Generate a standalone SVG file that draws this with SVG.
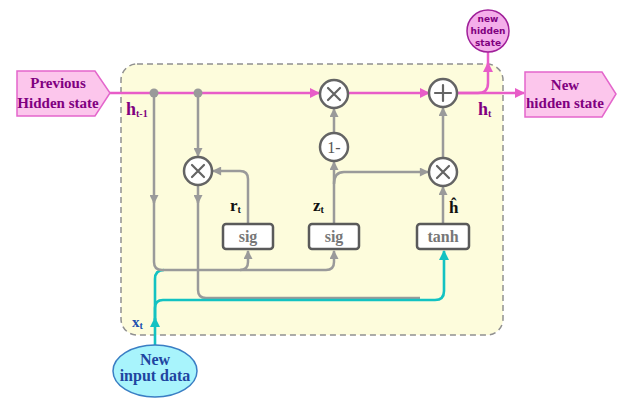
<svg xmlns="http://www.w3.org/2000/svg" width="618" height="399" viewBox="0 0 618 399">
  <style>
    .serif { font-family: "Liberation Serif", "Times New Roman", serif; font-weight: bold; }
    .cell { fill: #fdfcdc; stroke: #909090; stroke-width: 1.5; stroke-dasharray: 6 4; }
    .pink { fill: none; stroke: #e85cc8; stroke-width: 2.5; }
    .gray { fill: none; stroke: #9a9a9a; stroke-width: 2.5; }
    .cyan { fill: none; stroke: #13c2c2; stroke-width: 2.6; }
    .op { fill: #ffffff; stroke: #646464; stroke-width: 2.5; }
    .sym { fill: none; stroke: #646464; stroke-width: 2.2; stroke-linecap: round; }
    .gate { fill: #ffffff; stroke: #5a5a5a; stroke-width: 2.5; }
    .gtxt { fill: #777777; font-size: 16px; text-anchor: middle; }
    .state { fill: #fcc6ec; stroke: #e466cc; stroke-width: 1.5; }
    .ptxt { fill: #800080; font-size: 15px; text-anchor: middle; }
    .lbl { fill: #111111; font-size: 17px; }
    .sub { font-size: 10px; }
  </style>
  <defs>
    <marker id="ap" viewBox="0 0 10 10" refX="9" refY="5" markerWidth="11" markerHeight="10" markerUnits="userSpaceOnUse" orient="auto">
      <path d="M0,0 L10,5 L0,10 z" fill="#e85cc8"/>
    </marker>
    <marker id="ag" viewBox="0 0 10 10" refX="9" refY="5" markerWidth="10" markerHeight="9" markerUnits="userSpaceOnUse" orient="auto">
      <path d="M0,0 L10,5 L0,10 z" fill="#9a9a9a"/>
    </marker>
    <marker id="ac" viewBox="0 0 10 10" refX="9" refY="5" markerWidth="11" markerHeight="10" markerUnits="userSpaceOnUse" orient="auto">
      <path d="M0,0 L10,5 L0,10 z" fill="#13c2c2"/>
    </marker>
  </defs>

  <!-- GRU cell boundary -->
  <rect class="cell" x="121" y="64" width="382" height="271" rx="16"/>

  <!-- connectors -->
  <g id="connectors">
    <!-- input x_t feeding the gates -->
    <path class="cyan" d="M155,320 V279 Q155,270 164,270"/>
    <!-- h_{t-1} down to both sig gates -->
    <path class="gray" d="M154,93 V203" marker-end="url(#ag)"/>
    <path class="gray" d="M154,200 V262 Q154,270 162,270 H326 Q334,270 334,262 V251" marker-end="url(#ag)"/>
    <path class="gray" d="M240,270 Q248,270 248,262 V251" marker-end="url(#ag)"/>
    <!-- h_{t-1} into reset multiply -->
    <path class="gray" d="M198,93 V156" marker-end="url(#ag)"/>
    <!-- reset product down to tanh -->
    <path class="gray" d="M198,185 V203" marker-end="url(#ag)"/>
    <path class="gray" d="M198,200 V290 Q198,298 206,298 H420"/>
    <!-- r_t to reset multiply -->
    <path class="gray" d="M248,224 V179 Q248,171 240,171 H213" marker-end="url(#ag)"/>
    <!-- z_t to 1- and to update multiply -->
    <path class="gray" d="M334,224 V162" marker-end="url(#ag)"/>
    <path class="gray" d="M334,184 Q334,172 344,172 H428" marker-end="url(#ag)"/>
    <path class="gray" d="M334,133 V109" marker-end="url(#ag)"/>
    <!-- candidate path -->
    <path class="gray" d="M443,224 V187" marker-end="url(#ag)"/>
    <path class="gray" d="M443,158 V108" marker-end="url(#ag)"/>
    <!-- x_t input line -->
    <path class="cyan" d="M155,345 V318" marker-end="url(#ac)"/>
    <path class="cyan" d="M155,320 V308 Q155,300 163,300 H435 Q444,300 444,291 V251" marker-end="url(#ac)"/>
    <!-- hidden state line -->
    <path class="pink" d="M110,93 H319" marker-end="url(#ap)"/>
    <path class="pink" d="M348,93 H429" marker-end="url(#ap)"/>
    <path class="pink" d="M458,93 H524" marker-end="url(#ap)"/>
    <path class="pink" d="M458,93 H478 Q488,93 488,83 V63" marker-end="url(#ap)"/>
    <path class="pink" d="M488,66 V52"/>
    <!-- split points -->
    <circle cx="154" cy="93" r="4.5" fill="#9a9a9a"/>
    <circle cx="198" cy="93" r="4.5" fill="#9a9a9a"/>
  </g>

  <!-- states -->
  <g id="prev-state">
    <polygon class="state" points="17,71 95,71 110,93 95,116 17,116"/>
    <text class="serif ptxt" x="58" y="88">Previous</text>
    <text class="serif ptxt" x="58" y="108">Hidden state</text>
  </g>
  <g id="next-state">
    <polygon class="state" points="525,72 602,72 616,94 602,117 525,117"/>
    <text class="serif ptxt" x="565" y="90">New</text>
    <text class="serif ptxt" x="565" y="108">hidden state</text>
  </g>
  <g id="output-state">
    <circle cx="488" cy="31" r="21" fill="#f4aeea" stroke="#a0209a" stroke-width="1.5"/>
    <text x="488" y="22" font-family="'DejaVu Sans', sans-serif" font-weight="bold" font-size="9" fill="#800080" text-anchor="middle">new</text>
    <text x="488" y="34" font-family="'DejaVu Sans', sans-serif" font-weight="bold" font-size="9" fill="#800080" text-anchor="middle">hidden</text>
    <text x="488" y="46" font-family="'DejaVu Sans', sans-serif" font-weight="bold" font-size="9" fill="#800080" text-anchor="middle">state</text>
  </g>
  <g id="input-data">
    <ellipse cx="155" cy="371" rx="42" ry="26" fill="#a8f4fc" stroke="#3a7ec4" stroke-width="1.5"/>
    <text class="serif" x="155" y="365" font-size="16" fill="#2044a0" text-anchor="middle">New</text>
    <text class="serif" x="155" y="381" font-size="16" fill="#2044a0" text-anchor="middle">input data</text>
  </g>

  <!-- pointwise operations -->
  <g id="reset-mul">
    <circle class="op" cx="198" cy="171" r="14"/>
    <path class="sym" d="M192,165 L204,177 M204,165 L192,177"/>
  </g>
  <g id="keep-mul">
    <circle class="op" cx="334" cy="94" r="14"/>
    <path class="sym" d="M328,88 L340,100 M340,88 L328,100"/>
  </g>
  <g id="one-minus">
    <circle class="op" cx="334" cy="147" r="14"/>
    <text x="334" y="153" font-family="'Liberation Serif', serif" font-size="16" fill="#555555" text-anchor="middle">1-</text>
  </g>
  <g id="sum">
    <circle class="op" cx="443" cy="93" r="14"/>
    <path class="sym" d="M435,93 H451 M443,85 V101"/>
  </g>
  <g id="update-mul">
    <circle class="op" cx="443" cy="172" r="14"/>
    <path class="sym" d="M437,166 L449,178 M449,166 L437,178"/>
  </g>

  <!-- gates -->
  <g id="reset-gate">
    <rect class="gate" x="223" y="224" width="50" height="25" rx="3"/>
    <text class="serif gtxt" x="248" y="242">sig</text>
  </g>
  <g id="update-gate">
    <rect class="gate" x="309" y="224" width="50" height="25" rx="3"/>
    <text class="serif gtxt" x="334" y="242">sig</text>
  </g>
  <g id="candidate">
    <rect class="gate" x="417" y="224" width="52" height="25" rx="3"/>
    <text class="serif gtxt" x="443" y="242">tanh</text>
  </g>

  <!-- labels -->
  <text class="serif" x="126" y="115" font-size="18" fill="#800080">h<tspan class="sub" dy="2">t-1</tspan></text>
  <text class="serif" x="478" y="115" font-size="18" fill="#800080">h<tspan class="sub" dy="2">t</tspan></text>
  <text class="serif lbl" x="230" y="211">r<tspan class="sub" dy="2">t</tspan></text>
  <text class="serif lbl" x="313" y="211">z<tspan class="sub" dy="2">t</tspan></text>
  <text class="serif lbl" x="449" y="213">ĥ</text>
  <text class="serif" x="132" y="327" font-size="15" fill="#2050b0">x<tspan class="sub" dy="2">t</tspan></text>
</svg>
